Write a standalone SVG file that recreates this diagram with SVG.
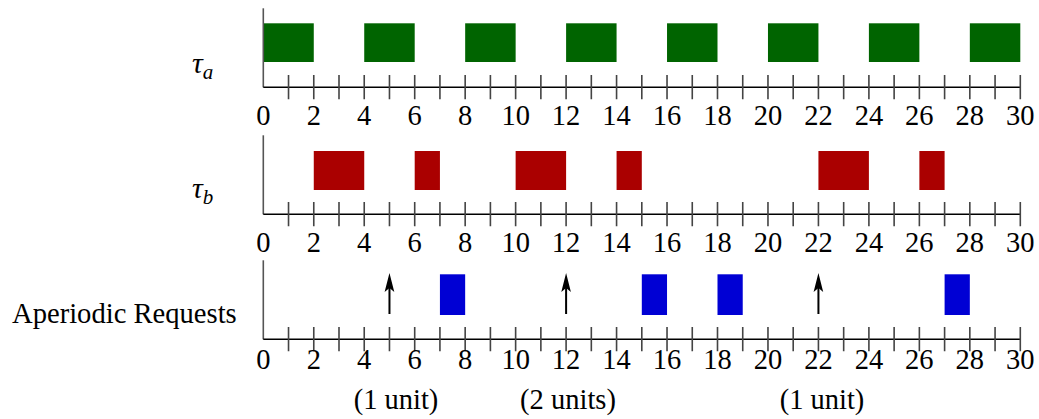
<svg xmlns="http://www.w3.org/2000/svg" xmlns:xlink="http://www.w3.org/1999/xlink" width="1039" height="419" viewBox="0 0 1039 419">
  <style>
    .vax { stroke: #555; stroke-width: 1.6; fill: none; }
    .hax { stroke: #000; stroke-width: 1.6; fill: none; }
    .tick { stroke: #444; stroke-width: 1.6; fill: none; }
    .num { font-family: "Liberation Serif", "Times New Roman", serif; font-size: 28.5px; fill: #000; text-anchor: middle; }
    .lbl { font-family: "Liberation Serif", "Times New Roman", serif; font-size: 28.6px; fill: #000; }
    .sym { font-family: "Liberation Serif", "Times New Roman", serif; font-style: italic; fill: #000; }
    .ta { fill: #006400; }
    .tb { fill: #aa0000; }
    .ap { fill: #0000d4; }
    .req line { stroke: #000; stroke-width: 2; }
    .req path { fill: #000; }
  </style>
  <defs>
    <!-- time axis, 0..30, one unit = 25.233 px, origin at x=263.3 -->
    <g id="axis">
      <path class="vax" d="M263.3,-79 V0"/>
      <path class="hax" d="M263.3,0 H1020.3"/>
      <path class="tick" d="M288.53,-12.3v24.3 M313.77,-12.3v24.3 M339,-12.3v24.3 M364.23,-12.3v24.3 M389.47,-12.3v24.3 M414.7,-12.3v24.3 M439.93,-12.3v24.3 M465.17,-12.3v24.3 M490.4,-12.3v24.3 M515.63,-12.3v24.3 M540.87,-12.3v24.3 M566.1,-12.3v24.3 M591.33,-12.3v24.3 M616.57,-12.3v24.3 M641.8,-12.3v24.3 M667.03,-12.3v24.3 M692.27,-12.3v24.3 M717.5,-12.3v24.3 M742.73,-12.3v24.3 M767.97,-12.3v24.3 M793.2,-12.3v24.3 M818.43,-12.3v24.3 M843.67,-12.3v24.3 M868.9,-12.3v24.3 M894.13,-12.3v24.3 M919.37,-12.3v24.3 M944.6,-12.3v24.3 M969.83,-12.3v24.3 M995.07,-12.3v24.3 M1020.3,-12.3v24.3"/>
    </g>
    <g id="nums">
      <text class="num" x="263.3" y="0">0</text>
      <text class="num" x="313.77" y="0">2</text>
      <text class="num" x="364.23" y="0">4</text>
      <text class="num" x="414.7" y="0">6</text>
      <text class="num" x="465.17" y="0">8</text>
      <text class="num" x="515.63" y="0">10</text>
      <text class="num" x="566.1" y="0">12</text>
      <text class="num" x="616.57" y="0">14</text>
      <text class="num" x="667.03" y="0">16</text>
      <text class="num" x="717.5" y="0">18</text>
      <text class="num" x="767.97" y="0">20</text>
      <text class="num" x="818.43" y="0">22</text>
      <text class="num" x="868.9" y="0">24</text>
      <text class="num" x="919.37" y="0">26</text>
      <text class="num" x="969.83" y="0">28</text>
      <text class="num" x="1020.3" y="0">30</text>
    </g>
  </defs>

  <rect width="1039" height="419" fill="#fff"/>

  <!-- task tau_a: runs 2 units every 4 -->
  <g id="task-a">
    <text class="sym" x="192" y="73" font-size="30">τ<tspan font-size="21" dy="6">a</tspan></text>
    <rect class="ta" x="263.3" y="23.3" width="50.47" height="38.7"/>
    <rect class="ta" x="364.23" y="23.3" width="50.47" height="38.7"/>
    <rect class="ta" x="465.17" y="23.3" width="50.47" height="38.7"/>
    <rect class="ta" x="566.1" y="23.3" width="50.47" height="38.7"/>
    <rect class="ta" x="667.03" y="23.3" width="50.47" height="38.7"/>
    <rect class="ta" x="767.97" y="23.3" width="50.47" height="38.7"/>
    <rect class="ta" x="868.9" y="23.3" width="50.47" height="38.7"/>
    <rect class="ta" x="969.83" y="23.3" width="50.47" height="38.7"/>
    <use xlink:href="#axis" href="#axis" y="87.3"/>
    <use xlink:href="#nums" href="#nums" y="125"/>
  </g>

  <!-- task tau_b -->
  <g id="task-b">
    <text class="sym" x="192" y="198" font-size="30">τ<tspan font-size="21" dy="6">b</tspan></text>
    <rect class="tb" x="313.77" y="151" width="50.47" height="39"/>
    <rect class="tb" x="414.7" y="151" width="25.23" height="39"/>
    <rect class="tb" x="515.63" y="151" width="50.47" height="39"/>
    <rect class="tb" x="616.57" y="151" width="25.23" height="39"/>
    <rect class="tb" x="818.43" y="151" width="50.47" height="39"/>
    <rect class="tb" x="919.37" y="151" width="25.23" height="39"/>
    <use xlink:href="#axis" href="#axis" y="214.3"/>
    <use xlink:href="#nums" href="#nums" y="251.5"/>
  </g>

  <!-- aperiodic requests and their service -->
  <g id="aperiodic">
    <text class="lbl" x="12" y="323">Aperiodic Requests</text>
    <rect class="ap" x="439.93" y="274.3" width="25.23" height="40.7"/>
    <rect class="ap" x="641.8" y="274.3" width="25.23" height="40.7"/>
    <rect class="ap" x="717.5" y="274.3" width="25.23" height="40.7"/>
    <rect class="ap" x="944.6" y="274.3" width="25.23" height="40.7"/>
    <use xlink:href="#axis" href="#axis" y="339.3"/>
    <use xlink:href="#nums" href="#nums" y="368.5"/>
    <text class="num" x="396" y="409">(1 unit)</text>
    <text class="num" x="568" y="409">(2 units)</text>
    <text class="num" x="822" y="409">(1 unit)</text>
  </g>

  <!-- request arrival arrows -->
  <g id="requests" class="req">
    <line x1="389.47" y1="314" x2="389.47" y2="284"/>
    <path d="M389.47,273 L394.3,292 L389.47,288 L384.6,292 Z"/>
    <line x1="566.1" y1="314" x2="566.1" y2="284"/>
    <path d="M566.1,273 L570.9,292 L566.1,288 L561.3,292 Z"/>
    <line x1="818.43" y1="314" x2="818.43" y2="284"/>
    <path d="M818.43,273 L823.2,292 L818.43,288 L813.6,292 Z"/>
  </g>
</svg>
